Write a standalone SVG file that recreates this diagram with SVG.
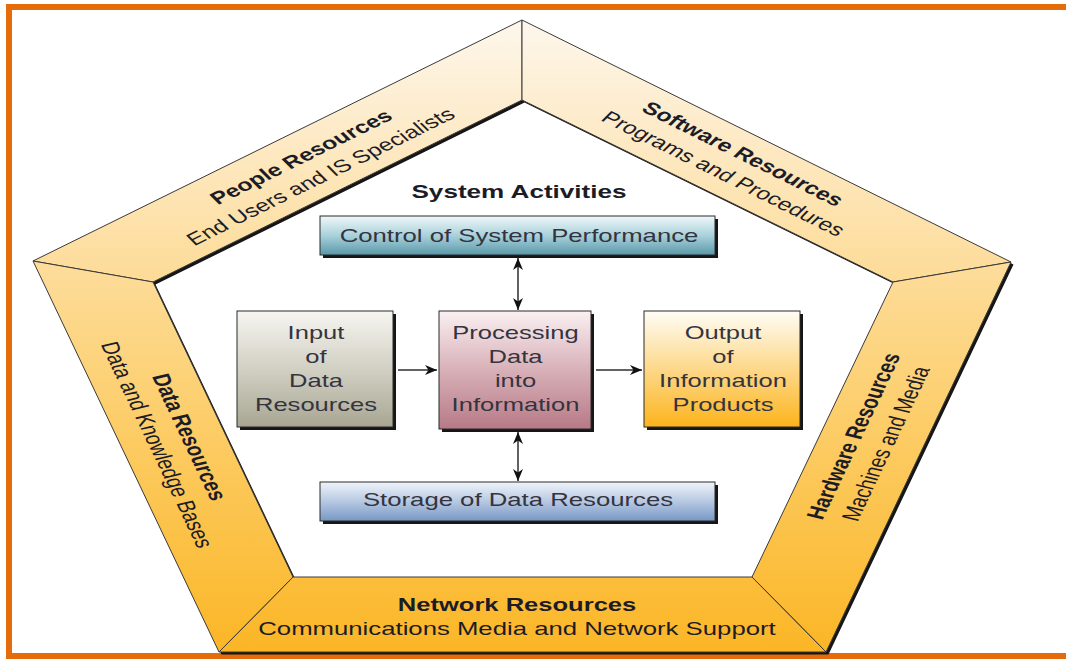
<svg xmlns="http://www.w3.org/2000/svg" width="1066" height="659" viewBox="0 0 1066 659">
<defs>
  <linearGradient id="ringGrad" gradientUnits="userSpaceOnUse" x1="0" y1="20" x2="0" y2="652">
    <stop offset="0" stop-color="#fdf7ec"/>
    <stop offset="0.2" stop-color="#fde9c3"/>
    <stop offset="0.45" stop-color="#fdd98f"/>
    <stop offset="0.7" stop-color="#fcc95c"/>
    <stop offset="1" stop-color="#fbb626"/>
  </linearGradient>
  <linearGradient id="gControl" x1="0" y1="0" x2="0" y2="1">
    <stop offset="0" stop-color="#f0f8fa"/>
    <stop offset="0.5" stop-color="#a9d1db"/>
    <stop offset="1" stop-color="#5a98a9"/>
  </linearGradient>
  <linearGradient id="gStorage" x1="0" y1="0" x2="0" y2="1">
    <stop offset="0" stop-color="#f0f4fa"/>
    <stop offset="0.5" stop-color="#b6c8e2"/>
    <stop offset="1" stop-color="#7798c4"/>
  </linearGradient>
  <linearGradient id="gInput" x1="0" y1="0" x2="0" y2="1">
    <stop offset="0" stop-color="#f6f5f1"/>
    <stop offset="0.5" stop-color="#d2d0c3"/>
    <stop offset="1" stop-color="#a8a692"/>
  </linearGradient>
  <linearGradient id="gProc" x1="0" y1="0" x2="0" y2="1">
    <stop offset="0" stop-color="#faf0f2"/>
    <stop offset="0.5" stop-color="#d8b0b8"/>
    <stop offset="1" stop-color="#b77a86"/>
  </linearGradient>
  <linearGradient id="gOutput" x1="0" y1="0" x2="0" y2="1">
    <stop offset="0" stop-color="#fffdf6"/>
    <stop offset="0.5" stop-color="#fdd88a"/>
    <stop offset="1" stop-color="#fcb41c"/>
  </linearGradient>
  <marker id="ah" markerUnits="userSpaceOnUse" markerWidth="12" markerHeight="10" refX="12" refY="5" orient="auto-start-reverse">
    <path d="M0,0 L12,5 L0,10 L3.5,5 Z" fill="#111"/>
  </marker>
</defs>
<style>
  .seg{fill:url(#ringGrad);stroke:#3a3a3a;stroke-width:1;stroke-linejoin:round}
  .t{font-family:"Liberation Sans",Arial,sans-serif;fill:#1c1c26;dominant-baseline:central;text-anchor:middle}
  .rt{font-size:17.5px}
  .ht{font-size:18px}
  .bt{font-size:18px;fill:#34343f}
  .b{font-weight:bold}
  .box{stroke:#2a2a2a;stroke-width:1}
  .sh{fill:#161616}
  .conn{stroke:#2e2e2e;stroke-width:1.5;fill:none}
</style>
<rect x="9" y="7" width="1070" height="649" fill="#ffffff" stroke="#e46c0a" stroke-width="6"/>

<g id="ring-shadow">
  <path class="sh" fill-rule="evenodd" transform="translate(2.5,2.5)" d="M33,261 L522,20 L1011,262 L826,652 L219,652 Z M153,282 L522,100 L893,282 L752,577 L293,577 Z"/>
</g>

<g id="people-resources">
  <polygon class="seg" points="33,261 522,20 522,100 153,282"/>
  <g transform="translate(311,167) scale(1.42,1) rotate(-35)">
    <text class="t rt b" x="0" y="-12">People Resources</text>
    <text class="t rt" x="0" y="12">End Users and IS Specialists</text>
  </g>
</g>
<g id="software-resources">
  <polygon class="seg" points="522,20 1011,262 893,282 522,100"/>
  <g transform="translate(733,164) scale(1.42,1) rotate(35)">
    <text class="t rt b" x="0" y="-12">Software Resources</text>
    <text class="t rt" x="0" y="12">Programs and Procedures</text>
  </g>
</g>
<g id="hardware-resources">
  <polygon class="seg" points="1011,262 826,652 752,577 893,282"/>
  <g transform="translate(870,440) scale(1.42,1) rotate(-71.5)">
    <text class="t rt b" x="0" y="-12">Hardware Resources</text>
    <text class="t rt" x="0" y="12">Machines and Media</text>
  </g>
</g>
<g id="network-resources">
  <polygon class="seg" points="826,652 219,652 293,577 752,577"/>
  <g transform="translate(517,605) scale(1.42,1)">
    <text class="t ht b" x="0" y="0">Network Resources</text>
  </g>
  <g transform="translate(517,629) scale(1.43,1)">
    <text class="t ht" x="0" y="0">Communications Media and Network Support</text>
  </g>
</g>
<g id="data-resources">
  <polygon class="seg" points="219,652 33,261 153,282 293,577"/>
  <g transform="translate(173,441) scale(1.42,1) rotate(71.5)">
    <text class="t rt b" x="0" y="-12">Data Resources</text>
    <text class="t rt" x="0" y="12">Data and Knowledge Bases</text>
  </g>
</g>

<g id="system-activities">
  <g transform="translate(519,192) scale(1.45,1)">
    <text class="t ht b" x="0" y="0">System Activities</text>
  </g>
</g>

<g id="control">
  <rect class="sh" x="323" y="219" width="395" height="39"/>
  <rect class="box" x="320" y="216" width="395" height="39" fill="url(#gControl)"/>
  <g transform="translate(519,236) scale(1.43,1)">
    <text class="t bt" x="0" y="0">Control of System Performance</text>
  </g>
</g>

<g id="input">
  <rect class="sh" x="240" y="314" width="156" height="116"/>
  <rect class="box" x="237" y="311" width="156" height="116" fill="url(#gInput)"/>
  <g transform="translate(316,0) scale(1.42,1)">
    <text class="t bt" x="0" y="333">Input</text>
    <text class="t bt" x="0" y="357">of</text>
    <text class="t bt" x="0" y="381">Data</text>
    <text class="t bt" x="0" y="405">Resources</text>
  </g>
</g>

<g id="processing">
  <rect class="sh" x="442" y="314" width="152" height="118"/>
  <rect class="box" x="439" y="311" width="152" height="118" fill="url(#gProc)"/>
  <g transform="translate(515.5,0) scale(1.42,1)">
    <text class="t bt" x="0" y="333">Processing</text>
    <text class="t bt" x="0" y="357">Data</text>
    <text class="t bt" x="0" y="381">into</text>
    <text class="t bt" x="0" y="405">Information</text>
  </g>
</g>

<g id="output">
  <rect class="sh" x="647" y="314" width="156" height="116"/>
  <rect class="box" x="644" y="311" width="156" height="116" fill="url(#gOutput)"/>
  <g transform="translate(723,0) scale(1.42,1)">
    <text class="t bt" x="0" y="333">Output</text>
    <text class="t bt" x="0" y="357">of</text>
    <text class="t bt" x="0" y="381">Information</text>
    <text class="t bt" x="0" y="405">Products</text>
  </g>
</g>

<g id="storage">
  <rect class="sh" x="323" y="485" width="395" height="39"/>
  <rect class="box" x="320" y="482" width="395" height="39" fill="url(#gStorage)"/>
  <g transform="translate(518,500) scale(1.43,1)">
    <text class="t bt" x="0" y="0">Storage of Data Resources</text>
  </g>
</g>

<g id="connectors">
  <line class="conn" x1="518" y1="258" x2="518" y2="310" marker-start="url(#ah)" marker-end="url(#ah)"/>
  <line class="conn" x1="518" y1="432" x2="518" y2="481" marker-start="url(#ah)" marker-end="url(#ah)"/>
  <line class="conn" x1="398" y1="370" x2="437" y2="370" marker-end="url(#ah)"/>
  <line class="conn" x1="596" y1="370" x2="642" y2="370" marker-end="url(#ah)"/>
</g>
</svg>
